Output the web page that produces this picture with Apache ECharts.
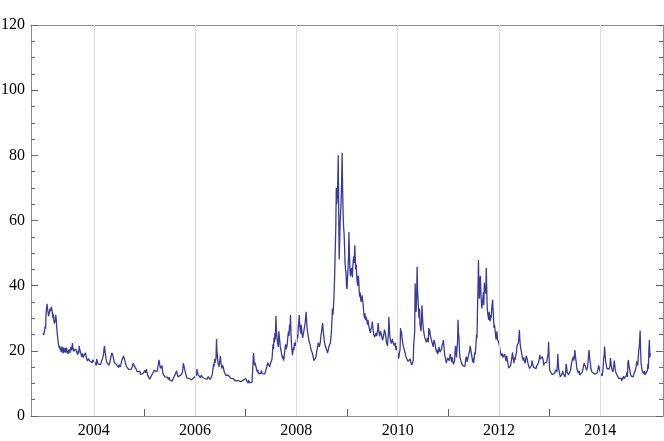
<!DOCTYPE html>
<html>
<head>
<meta charset="utf-8">
<script src="https://cdn.jsdelivr.net/npm/echarts@6/dist/echarts.min.js"></script>
<style>html,body{margin:0;padding:0;background:#fff}#c{width:664px;height:441px}</style>
</head>
<body>
<div id="c"></div>
<script>
// Twice-weekly readings (104 per year)
var vix2003 = [25.5, 24.8, 25.2, 26.3, 27.5, 26.8, 31.5, 33, 34.4, 32.8, 32, 30.6, 30.5, 31.8, 33, 32.2, 32, 33.5, 34, 31.5, 30, 31.2, 29.5, 28.4, 28, 29.5, 31, 29.2, 27, 25.2, 24, 22.5, 22, 20.8, 21.5, 20.2, 21, 19.6, 20.5, 21.3, 20, 19.2, 21, 20.3, 19.5, 20.8, 20.5, 19.4, 21, 20.2, 20, 19.1, 19.5, 20.4, 20, 19.3, 20.5, 21.2, 21, 20.1, 22.4, 21.2, 21, 19.8, 20, 19.2, 19.8, 20.6, 20.5, 19.6, 19.5, 18.8, 20, 19.3, 21.5, 20.4, 20.5, 19.5, 19, 18.2, 18.5, 19.2, 18, 17.4, 17.5, 18.3, 18.5, 19.4, 19, 17.8, 17.5, 16.9, 17, 17.6, 17.8, 17.1, 16.8, 17.4, 17.5, 16.9, 17, 16.4, 17.2, 16.8];
var vix2004 = [17.8, 17.2, 16.5, 17.1, 16, 15.5, 17.5, 16.8, 16.5, 15.9, 15.5, 16.2, 16, 15.4, 15.8, 16.4, 16.5, 17.3, 17, 18.2, 19, 20.5, 21.5, 19.8, 19, 17.6, 17, 16.4, 16, 16.8, 16.2, 15.6, 15.5, 16.4, 17, 18, 18.5, 19.4, 20, 18.7, 18, 17.2, 16.5, 15.9, 15.8, 16.4, 16.5, 15.7, 15.2, 15.8, 15.5, 14.9, 15.8, 15.2, 15, 15.6, 16, 16.8, 16.5, 17.6, 17.5, 18.4, 19, 17.8, 17, 16.3, 16, 15.2, 15, 14.6, 14.5, 14.9, 14.2, 13.8, 14, 14.6, 13.8, 14.4, 14.5, 15.2, 15.5, 16.2, 16.6, 15.4, 15.8, 15, 15, 14.4, 14, 13.6, 13.5, 14.1, 13.8, 13.2, 13.2, 13.7, 12.8, 13.4, 13, 12.6, 12.5, 13, 13.2, 12.8];
var vix2005 = [13.5, 14, 13.2, 12.7, 14.4, 13.6, 13, 12.4, 12, 12.5, 11.8, 11.3, 11.5, 12, 12.3, 11.9, 12.5, 13.1, 13.6, 13.1, 14, 13.4, 13.5, 14.1, 14.2, 13.6, 13.5, 14.3, 15.5, 16.4, 17.2, 16.1, 15.5, 14.6, 14, 14.8, 15.5, 14.2, 13, 13.6, 12.5, 12.9, 12, 11.6, 11.5, 12.1, 12.5, 11.9, 11.8, 11.2, 11.5, 11.9, 11, 10.6, 10.8, 11.3, 11, 10.7, 10.6, 11.2, 11.8, 12.4, 12.2, 12.7, 12.8, 13.3, 13.9, 13.1, 12.5, 12, 12, 12.5, 11.5, 11.9, 12, 12.6, 12.5, 13.1, 13.5, 14.6, 16.2, 15.4, 15, 14.1, 13.5, 12.8, 12.2, 11.7, 11.8, 11.3, 11.2, 11.7, 11.5, 11, 11, 11.4, 11.5, 11.1, 11.2, 10.9, 11, 11.6, 11.8, 12.3];
var vix2006 = [11.5, 11.9, 12, 12.6, 14.4, 13.5, 12.8, 12.2, 12.5, 13, 12.2, 11.7, 12, 12.6, 12.5, 11.9, 11.5, 11.9, 11.8, 11.3, 11.5, 12, 11.2, 11.6, 11.8, 11.3, 11.5, 12.1, 12, 11.6, 11.8, 11.2, 11.4, 11.9, 11.8, 12.6, 13.5, 14.8, 16, 15.2, 17.5, 16.3, 16, 17.8, 23.6, 20, 18, 16.4, 16, 15.1, 14.5, 15.6, 18.4, 16.5, 15.5, 14.6, 14.8, 15.5, 15, 14.2, 13.5, 13.9, 13, 12.5, 12.8, 12.3, 12.3, 12.8, 12.5, 11.9, 11.8, 12.4, 12, 11.6, 12.2, 11.7, 11.7, 11.2, 11.5, 11.1, 11, 11.5, 11.3, 10.8, 10.8, 11.2, 11, 10.6, 10.5, 10.9, 10.8, 10.3, 11.2, 10.7, 10.5, 10.1, 10.3, 10.7, 10.5, 11, 11, 10.6, 11.5, 11.2];
var vix2007 = [11.5, 12, 10.8, 11.3, 10.5, 10.1, 11, 10.6, 10.2, 10.7, 10.5, 10.1, 10.8, 10.4, 11, 10.6, 19.4, 17.5, 15.5, 16.4, 16.5, 15.2, 14.5, 13.9, 13.5, 14.2, 13, 12.6, 12.5, 13.2, 13.5, 13, 14, 13.4, 13, 12.6, 12.8, 13.4, 13.5, 12.9, 13.2, 13.9, 14, 13.4, 15.5, 16.4, 17, 15.8, 16, 15.1, 15.5, 16.2, 16.5, 15.7, 17.5, 19.6, 22, 20.5, 24, 22.6, 25.5, 23.5, 30.7, 26.5, 24.5, 23, 22, 21.2, 26, 24.4, 23, 21.2, 20.5, 19.6, 19, 18.2, 17.5, 18.4, 17, 18.5, 19.5, 21, 22, 20.6, 20, 21.7, 23.5, 25, 26, 24.6, 28, 26.2, 31, 25, 22, 20.2, 18.7, 20, 21, 20.2, 22.5, 21.4, 22.5, 21.6];
var vix2008 = [23.5, 22.6, 25, 24, 27.5, 29, 31, 27.6, 26.5, 25.3, 28, 26.4, 25, 24, 24.5, 25.7, 26, 27.5, 28.5, 30, 32, 29.5, 27, 25.8, 25.5, 24, 23, 22.4, 22, 21.2, 20.5, 20.9, 20, 19.2, 18.5, 17.8, 17, 17.6, 16.5, 17.2, 18, 19, 19.5, 20.8, 21.5, 22.5, 22, 21.2, 21, 22.4, 24, 25.2, 26, 27.5, 28.5, 26.4, 25, 23.5, 22.5, 21.6, 22, 21.2, 20.5, 20, 19.3, 19.9, 20.5, 21.4, 21, 21.8, 22.5, 24, 26, 29, 33, 31, 33, 36, 40, 45, 52, 58, 70, 65, 67, 72, 80, 62, 48, 54, 60, 63, 66, 72, 80.8, 70, 62, 58, 56, 52, 47, 45, 44, 40];
var vix2009 = [39, 42, 45, 48, 56.5, 50, 45, 43, 43, 45.5, 44, 42.5, 46, 48, 49, 47, 52.4, 48, 45, 46.5, 43, 41, 40, 43, 42, 38.5, 36.6, 38, 36, 35, 35, 37, 37, 34.5, 32.5, 31, 30, 31.5, 29.4, 30.5, 31, 29.2, 28, 29.5, 28.5, 27.4, 28, 27, 25.5, 26.5, 26, 27.5, 29, 27.2, 26, 25, 25, 24.2, 24, 24.8, 25.5, 24.5, 25, 26.5, 28.5, 26.5, 25.5, 24.4, 25, 26, 26, 24.8, 24, 23.2, 23.5, 24.5, 25.5, 26.5, 27, 25.2, 24, 22.6, 22, 21.5, 23.5, 25, 30.4, 27, 24.5, 23.4, 23, 22.2, 22.5, 23.6, 23.5, 22.4, 22.4, 21.6, 21.5, 22.5, 21, 20.2, 20, 21.5];
var vix2010 = [19.5, 18.5, 17.6, 17.8, 18, 20.5, 27, 24.5, 26, 23.8, 23.5, 22, 22.5, 20.6, 20, 19.5, 19, 18.2, 18.5, 17.6, 17.5, 16.8, 16.5, 17.4, 17.5, 16.7, 17.5, 16.5, 16, 15.6, 15.5, 16.2, 17, 22, 22.5, 26, 40.7, 33, 32, 37, 45.8, 38, 35.6, 32, 30, 33, 28, 27, 26, 29.5, 34, 30.5, 28, 26.5, 26.4, 24.5, 25, 23.5, 23.5, 22.6, 23, 24, 24.5, 22.6, 27, 25, 26.5, 24.8, 25, 23.5, 23.5, 22.4, 22, 21.2, 22.5, 23.3, 23.3, 22, 21, 20.2, 19.5, 20.4, 19, 18.8, 20, 21.2, 21, 19.6, 19, 19.8, 20.5, 21.6, 21, 22.5, 23.3, 21.5, 19.5, 18.5, 18, 17, 16.2, 17, 17.5, 17.8];
var vix2011 = [17.5, 17.8, 17, 16.4, 19, 18.2, 17.5, 16.5, 18, 16.8, 16.5, 15.9, 16, 17, 20, 21.5, 19.5, 18, 21, 22.5, 29.5, 25.5, 24, 20, 18, 17.4, 17.5, 16.4, 16, 15.6, 15.5, 15.1, 15, 16, 15.1, 16.5, 17, 18.2, 17.5, 16.6, 17, 18.3, 18.5, 19.4, 20.2, 21.5, 21, 19.6, 19, 17.8, 16.5, 17.8, 16.2, 17.5, 19.5, 18.8, 20, 22.5, 25, 24, 32.5, 39, 47.9, 38, 36, 42, 43, 38, 35, 33, 33, 36, 38, 34, 41, 38, 40, 37.5, 45.4, 39, 33, 31.5, 31, 29.5, 32, 30, 29, 31, 30, 32.5, 32, 35.6, 32.5, 30, 27, 28, 27.5, 25, 23.5, 24.5, 26, 23.5, 23.3, 22.8];
var vix2012 = [22.5, 21.5, 20.5, 19.6, 19.5, 18.5, 18.5, 19.2, 18, 17.4, 17.5, 18.2, 19, 18, 17.8, 16.8, 18.5, 17.5, 17, 15.6, 14.7, 15.3, 14.5, 15.1, 15.5, 16.4, 16.5, 18.5, 19.5, 17.8, 17, 16.2, 18, 17.2, 17.5, 18.8, 19.5, 21.5, 22, 21, 22.5, 24, 26.4, 23.5, 21.5, 20.6, 20, 19, 18, 17.4, 17, 18, 17, 16.5, 16.2, 17.4, 18.5, 19, 17.5, 16.6, 16, 15.4, 15, 14.6, 14.1, 15, 14.5, 15.5, 17, 16.2, 16, 15, 15.5, 14.8, 14.5, 15.2, 14.5, 15, 15.5, 16, 15.5, 16.2, 16.5, 17.6, 18.7, 17.5, 18, 17, 17.5, 18.2, 18.5, 17, 15.5, 16.2, 15.8, 16.5, 16, 15.6, 16.5, 17.5, 17, 19, 22.8, 18];
var vix2013 = [14.5, 13.8, 13.5, 14, 13.5, 12.8, 12.5, 13.2, 12.8, 13.4, 13, 12.6, 13.5, 14.2, 14.5, 13.5, 15.5, 19, 16, 14.2, 13.5, 12.8, 12, 11.5, 11.7, 12.4, 13, 13.8, 13, 12.6, 13.5, 12.8, 12, 13.2, 16, 15, 13.5, 13.2, 13, 12.6, 12.5, 13.2, 13, 14, 14, 16, 16, 17.5, 17.5, 18.2, 17, 18.5, 20.2, 18.5, 18, 16.2, 14.5, 15, 14, 13.2, 13.5, 13.9, 12.6, 13.2, 13, 12.2, 12.5, 13.4, 14, 14.8, 15, 16.2, 16.7, 15.5, 15, 15.9, 14, 14.2, 15, 16.5, 18.5, 20.2, 18.5, 17, 16, 14.5, 14, 13.5, 13.2, 13.8, 13.5, 13, 13, 12.8, 12.5, 12.3, 12.8, 13.4, 13.2, 12.8, 13.5, 15.5, 16, 14];
var vix2014 = [14, 13, 12.5, 12.9, 12.3, 13.5, 14.5, 17.5, 18.5, 21.3, 19, 17, 16, 15.2, 14.5, 14.7, 14.7, 14, 14, 14.5, 15.5, 17.8, 16.5, 15.2, 14.4, 14, 13.5, 14.5, 15.6, 17, 15.5, 14, 13.5, 13, 12.5, 13, 12.2, 12, 11.5, 12, 11.5, 12.1, 11, 11.6, 10.8, 11.2, 11.5, 12, 12.2, 11.5, 11, 11.6, 11.5, 12, 12.5, 13.5, 12, 16.5, 17.2, 15.5, 15.5, 14, 13, 12.3, 12, 11.8, 12, 12.5, 12, 12.8, 13, 13.6, 13.5, 14.5, 15.5, 16.8, 16.5, 15.5, 16, 20, 21, 23, 26.2, 20, 16.2, 15, 14, 14.5, 13.5, 13, 13, 13.8, 12.6, 13.2, 13, 12.4, 13, 14, 16, 14.5, 20.5, 23.3, 18, 19.3];

var years = [2003, 2004, 2005, 2006, 2007, 2008, 2009, 2010, 2011, 2012, 2013, 2014];
var yearly = [vix2003, vix2004, vix2005, vix2006, vix2007, vix2008, vix2009, vix2010, vix2011, vix2012, vix2013, vix2014];
var xTickValues = [2004, 2005, 2006, 2007, 2008, 2009, 2010, 2011, 2012, 2013, 2014];
var xLabelValues = [2004, 2006, 2008, 2010, 2012, 2014];

var points = [];
years.forEach(function (y, k) {
  var arr = yearly[k];
  arr.forEach(function (v, i) { points.push([y + i / arr.length, v]); });
});

var FONT = 'Liberation Serif';
var AX = '#8c8c8c';
var TK = '#666';
var chart = echarts.init(document.getElementById('c'), null, {renderer: 'canvas'});
chart.setOption({
  animation: false,
  backgroundColor: '#fff',
  grid: {left: 31, top: 25, width: 632, height: 391, containLabel: false, outerBoundsMode: 'none'},
  xAxis: [
    {
      type: 'value', position: 'bottom', min: 2002.76, max: 2015.24,
      axisLine: {show: true, onZero: false, lineStyle: {color: AX, width: 1}},
      axisTick: {show: true, inside: true, length: 7, customValues: xTickValues, lineStyle: {color: TK}},
      axisLabel: {show: true, customValues: xLabelValues, margin: 7, color: '#000', fontFamily: FONT, fontSize: 16,
        formatter: function (v) { return String(Math.round(v)); }},
      splitLine: {show: false}
    },
    {
      type: 'value', position: 'top', min: 2002.76, max: 2015.24,
      axisLine: {show: true, onZero: false, lineStyle: {color: AX, width: 1}},
      axisTick: {show: true, inside: true, length: 7, customValues: xLabelValues, lineStyle: {color: TK}},
      axisLabel: {show: false},
      splitLine: {show: false}
    }
  ],
  yAxis: [
    {
      type: 'value', position: 'left', min: 0, max: 120, interval: 20,
      axisLine: {show: true, onZero: false, lineStyle: {color: AX, width: 1}},
      axisTick: {show: true, inside: true, length: 7, lineStyle: {color: TK}},
      minorTick: {show: true, splitNumber: 4, length: 4, lineStyle: {color: TK}},
      axisLabel: {show: true, margin: 6, color: '#000', fontFamily: FONT, fontSize: 16},
      splitLine: {show: false}
    },
    {
      type: 'value', position: 'right', min: 0, max: 120, interval: 20,
      axisLine: {show: true, onZero: false, lineStyle: {color: AX, width: 1}},
      axisTick: {show: true, inside: true, length: 7, lineStyle: {color: TK}},
      minorTick: {show: true, splitNumber: 4, length: 4, lineStyle: {color: TK}},
      axisLabel: {show: false},
      splitLine: {show: false}
    }
  ],
  series: [
    {
      type: 'line', data: [], z: 1, silent: true,
      markLine: {
        silent: true, symbol: ['none', 'none'], label: {show: false},
        lineStyle: {color: '#dcdcdc', type: 'solid', width: 1},
        emphasis: {disabled: true},
        data: xLabelValues.map(function (v) { return {xAxis: v}; })
      }
    },
    {
      type: 'line', data: points, z: 3, showSymbol: false, symbol: 'none',
      lineStyle: {color: '#3A3A9A', width: 1.3}, silent: true
    }
  ]
});
</script>
</body>
</html>
